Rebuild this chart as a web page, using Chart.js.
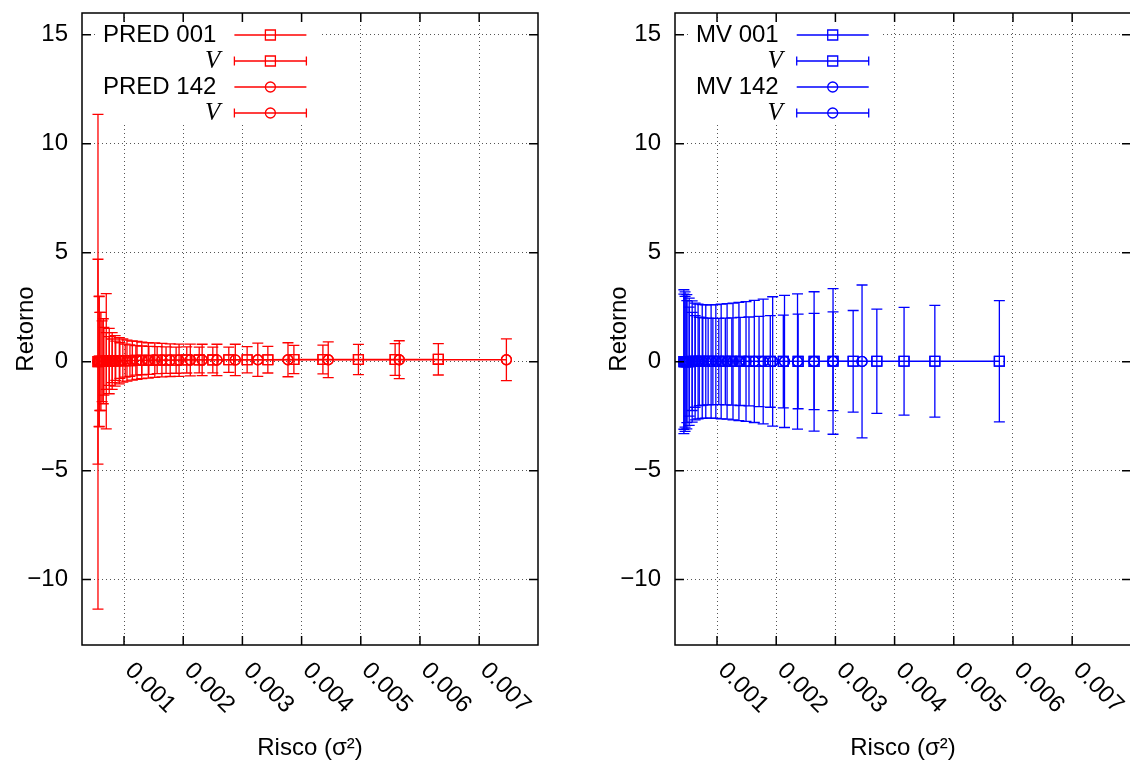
<!DOCTYPE html>
<html>
<head>
<meta charset="utf-8">
<script src="https://cdn.jsdelivr.net/npm/chart.js"></script>
<style>
html, body { margin: 0; padding: 0; background: #fff; overflow: hidden; }
#wrap { position: relative; width: 1130px; height: 767px; overflow: hidden; }
canvas { position: absolute; top: 0; }
#left { left: 0; }
#right { left: 593px; }
</style>
</head>
<body>
<div id="wrap">
  <canvas id="left" width="565" height="767"></canvas>
  <canvas id="right" width="565" height="767"></canvas>
</div>
<script>
// axis setup
const xTicks = [0.001, 0.002, 0.003, 0.004, 0.005, 0.006, 0.007];
const yTicks = [-10, -5, 0, 5, 10, 15];
const xMin = 0.00029, xMax = 0.007994;
const yMin = -13, yMax = 16;

// left panel: PRED 001 (squares) and PRED 142 (circles)
const pred001X = [0.00056, 0.00058, 0.00059, 0.00063, 0.00066, 0.00070, 0.00075, 0.00080, 0.00086, 0.00093,
  0.00102, 0.00110, 0.00120, 0.00130, 0.00142, 0.00156, 0.00171, 0.00188, 0.00206, 0.00227,
  0.00250, 0.00277, 0.00308, 0.00343, 0.00387, 0.00436, 0.00496, 0.00558, 0.00631];
const pred001Y = [0.00, 0.01, 0.01, 0.02, 0.02, 0.03, 0.03, 0.04, 0.04, 0.05,
  0.05, 0.05, 0.06, 0.06, 0.06, 0.07, 0.07, 0.07, 0.08, 0.08,
  0.08, 0.09, 0.09, 0.09, 0.10, 0.10, 0.10, 0.10, 0.11];
const pred001Err = [4.70, 3.00, 2.25, 1.85, 1.55, 1.30, 1.12, 1.00, 0.90, 0.82,
  0.76, 0.72, 0.68, 0.66, 0.64, 0.62, 0.61, 0.60, 0.60, 0.59,
  0.59, 0.58, 0.60, 0.61, 0.65, 0.66, 0.69, 0.73, 0.72];

const pred142X = [0.00056, 0.00058, 0.00061, 0.00065, 0.00070, 0.00075, 0.00080, 0.00085, 0.00092, 0.00098,
  0.00105, 0.00114, 0.00122, 0.00130, 0.00141, 0.00152, 0.00164, 0.00178, 0.00193, 0.00212,
  0.00232, 0.00257, 0.00288, 0.00326, 0.00377, 0.00445, 0.00565, 0.00746];
const pred142Y = [0.00, 0.01, 0.01, 0.02, 0.02, 0.03, 0.03, 0.04, 0.04, 0.05,
  0.05, 0.05, 0.06, 0.06, 0.06, 0.07, 0.07, 0.07, 0.07, 0.08,
  0.08, 0.08, 0.08, 0.09, 0.09, 0.09, 0.09, 0.09];
const pred142Err = [11.35, 2.98, 2.25, 1.95, 3.10, 1.50, 1.30, 1.16, 1.06, 0.99,
  0.94, 0.90, 0.87, 0.84, 0.81, 0.79, 0.77, 0.75, 0.74, 0.73,
  0.72, 0.72, 0.72, 0.76, 0.78, 0.82, 0.87, 0.96];

// right panel: MV 001 (squares) and MV 142 (circles)
const mv001X = [0.00044, 0.00046, 0.00049, 0.00053, 0.00058, 0.00063, 0.00070, 0.00076, 0.00085, 0.00093,
  0.00103, 0.00114, 0.00125, 0.00139, 0.00154, 0.00171, 0.00190, 0.00212, 0.00237, 0.00264,
  0.00296, 0.00330, 0.00370, 0.00416, 0.00468, 0.00577];
const mv001Y = [0.00, 0.00, 0.00, 0.00, 0.01, 0.01, 0.01, 0.01, 0.01, 0.01,
  0.01, 0.01, 0.01, 0.01, 0.01, 0.01, 0.01, 0.01, 0.01, 0.01,
  0.02, 0.02, 0.02, 0.02, 0.02, 0.02];
const mv001Err = [3.10, 3.00, 2.80, 2.50, 2.25, 2.10, 2.03, 2.00, 1.99, 1.98,
  1.98, 1.99, 2.00, 2.02, 2.04, 2.07, 2.10, 2.13, 2.17, 2.21,
  2.27, 2.33, 2.39, 2.47, 2.56, 2.78];

const mv142X = [0.00044, 0.00046, 0.00049, 0.00053, 0.00058, 0.00063, 0.00068, 0.00075, 0.00081, 0.00090,
  0.00098, 0.00107, 0.00117, 0.00127, 0.00137, 0.00149, 0.00163, 0.00178, 0.00194, 0.00214,
  0.00236, 0.00264, 0.00296, 0.00345];
const mv142Y = [0.00, 0.00, 0.00, 0.00, 0.01, 0.01, 0.01, 0.01, 0.01, 0.01,
  0.01, 0.01, 0.01, 0.01, 0.01, 0.01, 0.01, 0.01, 0.01, 0.01,
  0.01, 0.01, 0.01, 0.01];
const mv142Err = [3.30, 3.20, 3.08, 2.92, 2.78, 2.68, 2.63, 2.61, 2.60, 2.60,
  2.61, 2.63, 2.65, 2.68, 2.71, 2.75, 2.80, 2.86, 2.97, 3.03,
  3.10, 3.20, 3.34, 3.51];

const FONT = "'Liberation Sans', Arial, Helvetica, sans-serif";
const FSIZE = 24;
Chart.defaults.font.family = FONT;
Chart.defaults.font.size = FSIZE;
Chart.defaults.color = '#000';

function pts(xs, ys) {
  return xs.map((x, i) => ({ x: x, y: ys[i] }));
}

function series(label, xs, ys, color, style, errs) {
  return {
    label: label,
    data: pts(xs, ys),
    errorBars: errs || null,
    showLine: !errs,
    borderColor: color,
    borderWidth: 1.3,
    tension: 0,
    fill: false,
    pointStyle: style,
    pointRadius: style === 'rect' ? 7 : 5,
    pointBorderWidth: 1.3,
    pointBorderColor: color,
    pointBackgroundColor: 'rgba(0,0,0,0)'
  };
}

// gnuplot style key: text right aligned, sample to the right of it
function keyBox(chart) {
  const ctx = chart.ctx, a = chart.chartArea;
  ctx.save();
  ctx.font = FSIZE + 'px ' + FONT;
  let maxW = 0;
  chart.data.datasets.forEach(ds => { maxW = Math.max(maxW, ctx.measureText(ds.label).width); });
  ctx.restore();
  const textRight = a.left + 21 + maxW;
  const sL = textRight + 18, sR = sL + 72;
  return {
    textRight: textRight, sL: sL, sR: sR,
    x0: a.left + 16, x1: sR + 14, y0: a.top + 9, y1: a.top + 111,
    rowY: i => a.top + 22 + i * 26
  };
}

function marker(ctx, style, x, y) {
  ctx.beginPath();
  if (style === 'rect') ctx.rect(x - 5, y - 5, 10, 10);
  else ctx.arc(x, y, 5, 0, Math.PI * 2);
  ctx.stroke();
}

const gnuplotLook = {
  id: 'gnuplotLook',
  beforeDatasetsDraw(chart) {
    const ctx = chart.ctx;
    const xs = chart.scales.x, ys = chart.scales.y;
    const k = keyBox(chart);
    ctx.save();
    ctx.fillStyle = '#fff';
    ctx.fillRect(k.x0, k.y0, k.x1 - k.x0, k.y1 - k.y0);
    chart.data.datasets.forEach(ds => {
      if (!ds.errorBars) return;
      ctx.strokeStyle = ds.borderColor;
      ctx.lineWidth = 1.3;
      ds.data.forEach((p, i) => {
        const px = xs.getPixelForValue(p.x);
        const top = ys.getPixelForValue(p.y + ds.errorBars[i]);
        const bot = ys.getPixelForValue(p.y - ds.errorBars[i]);
        ctx.beginPath();
        ctx.moveTo(px, top); ctx.lineTo(px, bot);
        ctx.moveTo(px - 5.5, top); ctx.lineTo(px + 5.5, top);
        ctx.moveTo(px - 5.5, bot); ctx.lineTo(px + 5.5, bot);
        ctx.stroke();
      });
    });
    ctx.restore();
  },
  afterDraw(chart) {
    const ctx = chart.ctx, a = chart.chartArea;
    const xs = chart.scales.x, ys = chart.scales.y;
    ctx.save();
    // frame and inward ticks on all four sides
    ctx.strokeStyle = '#000';
    ctx.lineWidth = 1.5;
    ctx.strokeRect(a.left, a.top, a.right - a.left, a.bottom - a.top);
    ctx.beginPath();
    xTicks.forEach(v => {
      const px = xs.getPixelForValue(v);
      ctx.moveTo(px, a.bottom); ctx.lineTo(px, a.bottom - 9);
      ctx.moveTo(px, a.top); ctx.lineTo(px, a.top + 9);
    });
    yTicks.forEach(v => {
      const py = ys.getPixelForValue(v);
      ctx.moveTo(a.left, py); ctx.lineTo(a.left + 9, py);
      ctx.moveTo(a.right, py); ctx.lineTo(a.right - 9, py);
    });
    ctx.stroke();

    // rotated x tick labels
    ctx.fillStyle = '#000';
    ctx.font = FSIZE + 'px ' + FONT;
    ctx.textAlign = 'center';
    ctx.textBaseline = 'middle';
    xTicks.forEach(v => {
      const px = xs.getPixelForValue(v);
      ctx.save();
      ctx.translate(px + 26, a.bottom + 43);
      ctx.rotate(Math.PI / 4);
      ctx.fillText(v.toFixed(3), 0, 0);
      ctx.restore();
    });

    // key
    const k = keyBox(chart);
    chart.data.datasets.forEach((ds, i) => {
      const y = k.rowY(i);
      ctx.fillStyle = '#000';
      ctx.textAlign = 'right';
      ctx.textBaseline = 'middle';
      ctx.font = ds.label === 'V' ? "italic 25px 'Liberation Serif', 'DejaVu Serif', serif" : FSIZE + 'px ' + FONT;
      ctx.fillText(ds.label, k.textRight + (ds.label === 'V' ? 4 : 0), y);
      ctx.strokeStyle = ds.borderColor;
      ctx.lineWidth = 1.3;
      ctx.beginPath();
      ctx.moveTo(k.sL, y); ctx.lineTo(k.sR, y);
      if (ds.errorBars) {
        ctx.moveTo(k.sL, y - 4.5); ctx.lineTo(k.sL, y + 4.5);
        ctx.moveTo(k.sR, y - 4.5); ctx.lineTo(k.sR, y + 4.5);
      }
      ctx.stroke();
      marker(ctx, ds.pointStyle, (k.sL + k.sR) / 2, y);
    });
    ctx.restore();
  }
};

function makeChart(id, datasets) {
  const grid = { color: '#555', lineWidth: 1, drawTicks: false };
  const border = { display: false, dash: [1, 3] };
  return new Chart(document.getElementById(id), {
    type: 'line',
    data: { datasets: datasets },
    options: {
      responsive: false,
      animation: false,
      devicePixelRatio: 1,
      layout: { padding: { left: 0, right: 27, top: 13, bottom: 0 } },
      plugins: { legend: { display: false }, tooltip: { enabled: false } },
      scales: {
        x: {
          type: 'linear', min: xMin, max: xMax,
          afterBuildTicks: s => { s.ticks = xTicks.map(v => ({ value: v })); },
          afterFit: s => { s.height = 122; s.paddingLeft = 0; s.paddingRight = 0; },
          ticks: { display: false },
          grid: grid, border: border,
          title: { display: true, text: 'Risco (σ²)', padding: { top: 0, bottom: 4 } }
        },
        y: {
          type: 'linear', min: yMin, max: yMax,
          afterBuildTicks: s => { s.ticks = yTicks.map(v => ({ value: v })); },
          afterFit: s => { s.width = 82; s.paddingTop = 0; s.paddingBottom = 0; },
          ticks: { padding: 14, callback: v => String(v).replace('-', '\u2212') },
          grid: grid, border: border,
          title: { display: true, text: 'Retorno', padding: { top: 12, bottom: 0 } }
        }
      }
    },
    plugins: [gnuplotLook]
  });
}

const RED = '#ff0000', BLUE = '#0000ff';

makeChart('left', [
  series('PRED 001', pred001X, pred001Y, RED, 'rect'),
  series('V', pred001X, pred001Y, RED, 'rect', pred001Err),
  series('PRED 142', pred142X, pred142Y, RED, 'circle'),
  series('V', pred142X, pred142Y, RED, 'circle', pred142Err)
]);

makeChart('right', [
  series('MV 001', mv001X, mv001Y, BLUE, 'rect'),
  series('V', mv001X, mv001Y, BLUE, 'rect', mv001Err),
  series('MV 142', mv142X, mv142Y, BLUE, 'circle'),
  series('V', mv142X, mv142Y, BLUE, 'circle', mv142Err)
]);
</script>
</body>
</html>
